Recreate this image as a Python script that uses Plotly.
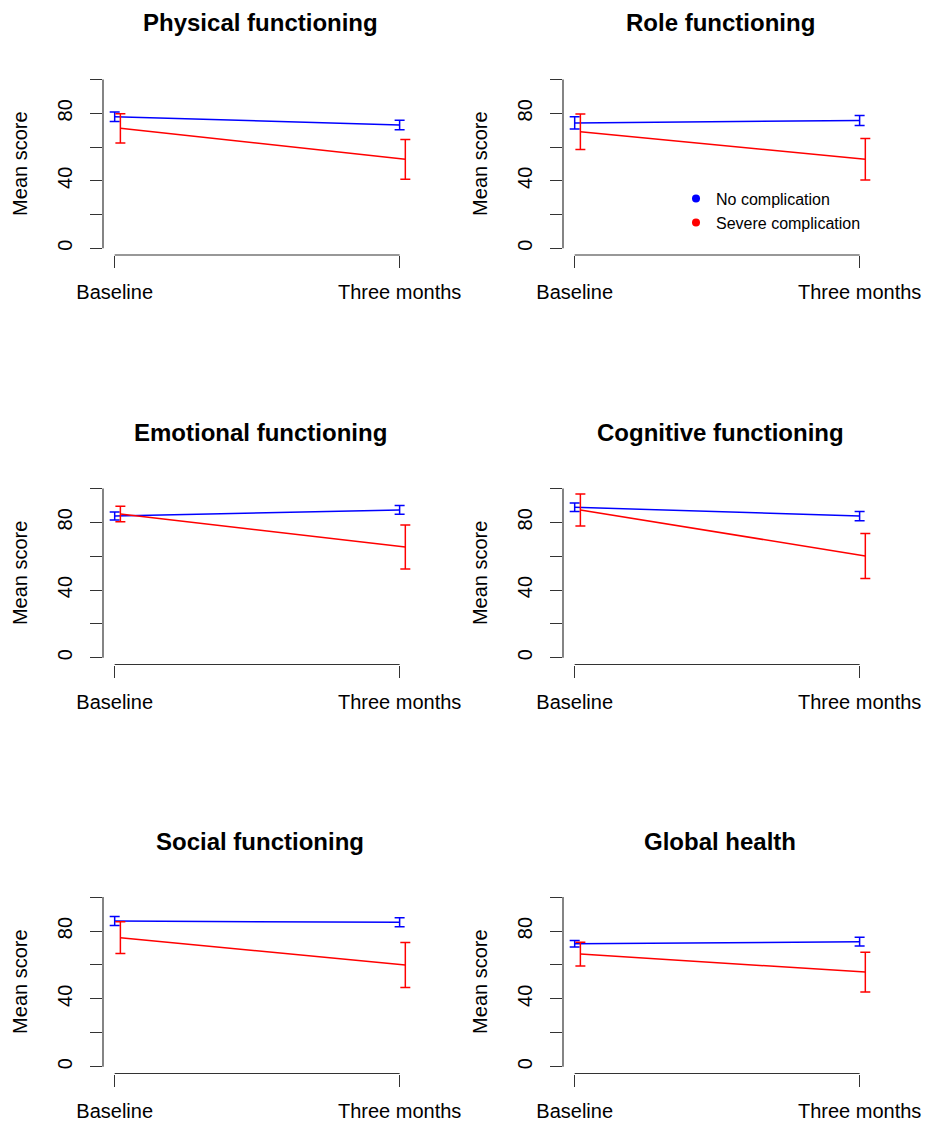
import plotly.graph_objects as go

# ---- data ----
panels = ["Physical functioning", "Role functioning", "Emotional functioning",
          "Cognitive functioning", "Social functioning", "Global health"]
time_labels = ["Baseline", "Three months"]
time_pos = [1, 2]

no_comp_mean = [[78.0, 73.1], [74.3, 75.7], [83.7, 87.3], [88.9, 83.7], [85.9, 85.1], [72.5, 73.7]]
no_comp_err = [[2.8, 2.8], [3.6, 3.0], [2.4, 2.6], [2.5, 2.75], [2.6, 2.65], [1.9, 2.55]]
severe_mean = [[71.1, 52.7], [69.1, 52.7], [84.9, 65.4], [87.3, 60.1], [76.1, 60.0], [66.4, 55.8]]
severe_err = [[8.7, 11.8], [10.5, 12.3], [4.6, 13.0], [9.5, 13.3], [9.3, 13.3], [7.0, 11.7]]

y_ticks = [0, 20, 40, 60, 80, 100]
y_ticktext = ["0", "", "40", "", "80", ""]

series_names = ["No complication", "Severe complication"]
series_colors = ["#0000FF", "#FF0000"]
dodge = [0.0, 0.02]

# ---- layout geometry (pixels) ----
W, H = 928, 1123
col_px = [(103, 417), (563, 877)]
row_px = [(72.8, 255.0), (481.7, 664.5), (890.3, 1073.5)]
title_px = [22, 432, 841]
FONT = "Liberation Sans, Arial, Helvetica, sans-serif"
AX = "#333333"

fig = go.Figure()
layout = dict(width=W, height=H, margin=dict(l=0, r=0, t=0, b=0, autoexpand=False),
              paper_bgcolor="white", plot_bgcolor="white", showlegend=True,
              font=dict(family=FONT, size=20, color="black"))
annotations = []
shapes = []

for i, name in enumerate(panels):
    r, c = divmod(i, 2)
    k = i + 1
    xa = "xaxis" if k == 1 else f"xaxis{k}"
    ya = "yaxis" if k == 1 else f"yaxis{k}"
    xr = "x" if k == 1 else f"x{k}"
    yr = "y" if k == 1 else f"y{k}"
    x0, x1 = col_px[c]
    t, b = row_px[r]
    layout[xa] = dict(domain=[x0 / W, x1 / W], range=[0.959, 2.061], anchor=yr,
                      automargin=False,
                      showgrid=False, zeroline=False, showline=False,
                      tickvals=time_pos, ticktext=time_labels, ticks="outside",
                      ticklen=12, tickwidth=1.2, tickcolor=AX, ticklabelstandoff=7,
                      tickfont=dict(size=20, color="black", family=FONT))
    layout[ya] = dict(domain=[1 - b / H, 1 - t / H], range=[-4, 104], anchor=xr,
                      automargin=False,
                      showgrid=False, zeroline=False, showline=False,
                      tickvals=y_ticks, ticktext=y_ticktext, ticks="outside",
                      ticklen=12, tickwidth=1.2, tickcolor=AX, tickangle=-90,
                      ticklabelstandoff=10,
                      tickfont=dict(size=20, color="black", family=FONT))
    # R-style axis lines spanning only the tick range
    shapes.append(dict(type="line", xref=f"{xr} domain", yref=yr, x0=0, x1=0,
                       y0=y_ticks[0], y1=y_ticks[-1], line=dict(color=AX, width=1.2)))
    shapes.append(dict(type="line", xref=xr, yref=f"{yr} domain", x0=time_pos[0],
                       x1=time_pos[-1], y0=0, y1=0, line=dict(color=AX, width=1.2)))
    for s, (means, errs) in enumerate([(no_comp_mean, no_comp_err), (severe_mean, severe_err)]):
        fig.add_trace(go.Scatter(
            x=[p + dodge[s] for p in time_pos], y=means[i], mode="lines",
            line=dict(color=series_colors[s], width=1.5),
            error_y=dict(type="data", array=errs[i], visible=True,
                         color=series_colors[s], thickness=1.5, width=5),
            xaxis=xr, yaxis=yr, showlegend=False, hoverinfo="skip"))
    annotations.append(dict(text=f"<b>{name}</b>", xref="paper", yref="paper",
                            x=(x0 + x1) / 2 / W, y=1 - title_px[r] / H,
                            xanchor="center", yanchor="middle", showarrow=False,
                            font=dict(size=24, family=FONT, color="black")))
    annotations.append(dict(text="Mean score", xref="paper", yref="paper",
                            x=(x0 - 83) / W, y=1 - (t + b) / 2 / H, textangle=-90,
                            xanchor="center", yanchor="middle", showarrow=False,
                            font=dict(size=20, family=FONT, color="black")))

# legend entries (dots) placed in the Role functioning panel
for s in range(2):
    fig.add_trace(go.Scatter(x=[None], y=[None], mode="markers", name=series_names[s],
                             marker=dict(color=series_colors[s], size=8),
                             xaxis="x2", yaxis="y2", showlegend=True))

layout["legend"] = dict(x=676 / W, y=1 - 210.7 / H, xanchor="left", yanchor="middle",
                        bgcolor="rgba(0,0,0,0)", font=dict(size=16, family=FONT),
                        tracegroupgap=0, itemwidth=30)
layout["annotations"] = annotations
layout["shapes"] = shapes
fig.update_layout(**layout)
fig.write_html("out.html", config={"displayModeBar": False},
               post_script="document.body.style.margin='0px';document.body.style.padding='0px';")
